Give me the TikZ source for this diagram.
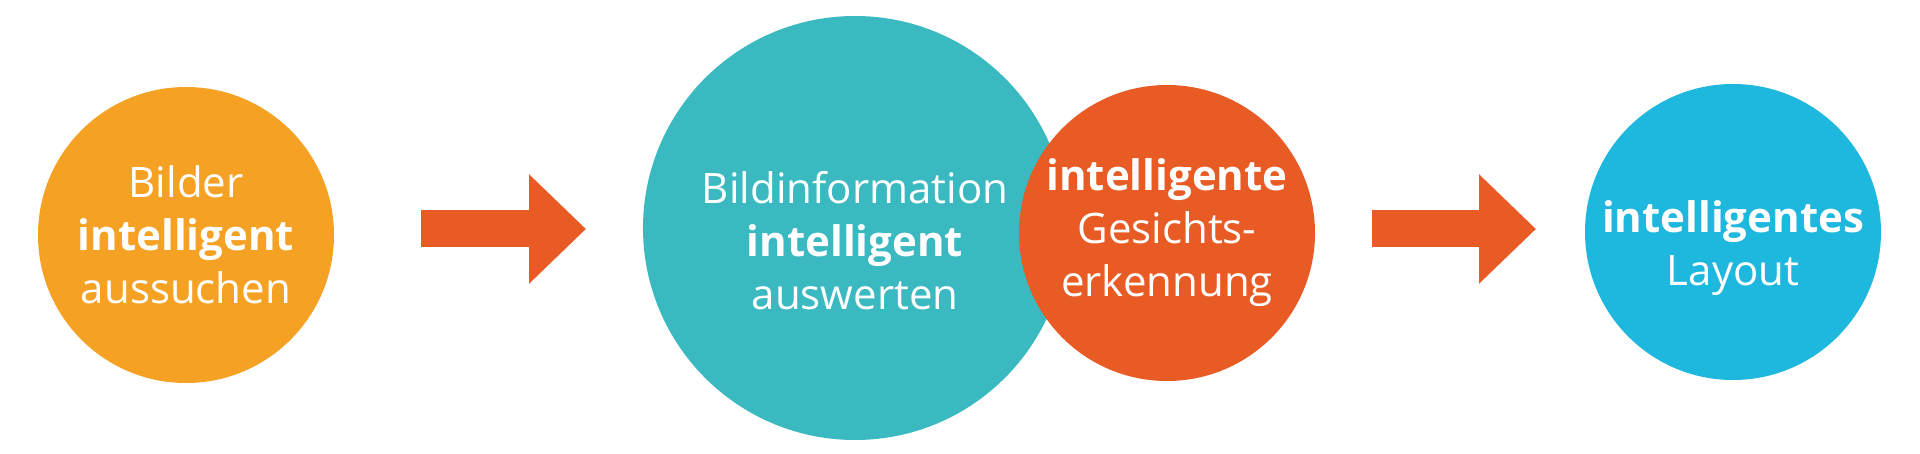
\documentclass[tikz,border=0pt]{standalone}
\usepackage{fontspec}
\setmainfont{Open Sans}
\usepackage{xcolor}
\usetikzlibrary{arrows.meta}

\definecolor{gelb}{HTML}{F4A124}
\definecolor{petrol}{HTML}{3AB9C1}
\definecolor{rot}{HTML}{E95B24}
\definecolor{hellblau}{HTML}{1EB7DD}

\begin{document}
\begin{tikzpicture}[x=1pt, y=-1pt,
        kreis/.style={
                circle,
                inner sep=0pt,
        },
        beschriftung/.style={
                align=center,
                text=white,
                font=\fontsize{42}{53}\selectfont,
        },
        pfeil/.style={
                line width=37pt,
                draw=rot,
                -{Triangle[length=57pt, width=106pt]},
        }]
            \useasboundingbox (0, 0) rectangle (1920, 454);
            \node[kreis, fill=gelb, minimum size=296pt] (auswahl) at (186, 235) {};
            \node[kreis, fill=petrol, minimum size=424pt] (analyse) at (855, 228) {};
            \node[kreis, fill=rot, minimum size=296pt] (gesicht) at (1167, 233) {};
            \node[kreis, fill=hellblau, minimum size=296pt] (layout) at (1733, 232) {};
            \node[beschriftung] (tauswahl) at (auswahl) {Bilder\\\textbf{intelligent}\\aussuchen};
            \node[beschriftung] (tanalyse) at ([yshift=-13pt]analyse.center) {Bildinformation\\\textbf{intelligent}\\auswerten};
            \node[beschriftung] (tgesicht) at (gesicht) {\textbf{intelligente}\\Gesichts-\\erkennung};
            \node[beschriftung] (tlayout) at ([yshift=-16pt]layout.center) {\textbf{intelligentes}\\Layout};
            \coordinate (p1a) at (421, 229);
            \coordinate (p1b) at (586, 229);
            \coordinate (p2a) at (1372, 229);
            \coordinate (p2b) at (1536, 229);
            \draw[pfeil] (p1a) -- (p1b);
            \draw[pfeil] (p2a) -- (p2b);
        \end{tikzpicture}
\end{document}
